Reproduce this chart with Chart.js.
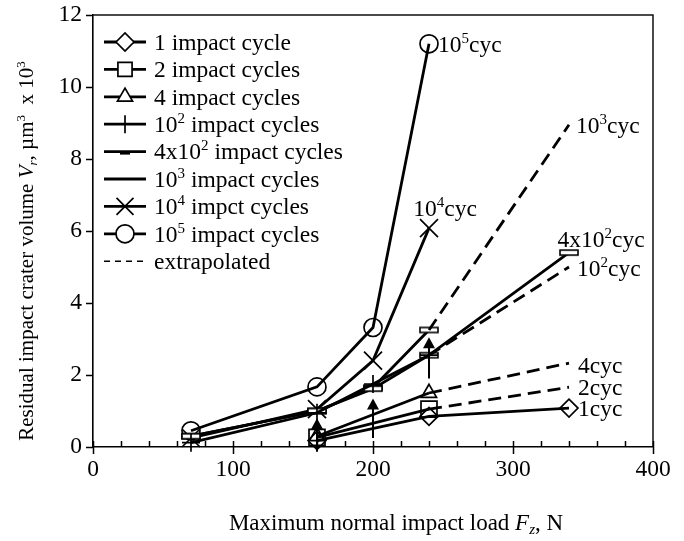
<!DOCTYPE html>
<html>
<head>
<meta charset="utf-8">
<script src="https://cdn.jsdelivr.net/npm/chart.js@4.4.1/dist/chart.umd.min.js"></script>
<style>
html,body{margin:0;padding:0;background:#fff}
canvas{display:block}
</style>
</head>
<body>
<canvas id="c" width="684" height="541"></canvas>
<script>
// Residual impact crater volume (x10^3 µm^3) against maximum normal impact load (N)
const cyc1Load = [160, 240, 340];
const cyc1Vol = [0.18, 0.85, 1.08];
const cyc2Load = [160, 240];
const cyc2Vol = [0.27, 1.05];
const cyc4Load = [160, 240];
const cyc4Vol = [0.30, 1.50];
const cyc100Load = [70, 160, 200, 240];
const cyc100Vol = [0.12, 0.95, 1.75, 2.55];
const cyc400Load = [70, 160, 200, 240, 340];
const cyc400Vol = [0.30, 1.00, 1.62, 2.55, 5.40];
const cyc1e3Load = [70, 160, 200, 240];
const cyc1e3Vol = [0.30, 1.00, 1.65, 3.25];
const cyc1e4Load = [70, 160, 200, 240];
const cyc1e4Vol = [0.25, 1.05, 2.40, 6.08];
const cyc1e5Load = [70, 160, 200, 240];
const cyc1e5Vol = [0.45, 1.67, 3.32, 11.2];

// extrapolated end values at the highest load
const extLoad = 340;
const cyc2Ext = 1.66;
const cyc4Ext = 2.33;
const cyc100Ext = 5.0;
const cyc1e3Ext = 8.95;

// upward arrows (load, start volume, tip volume)
const arrowLoad = [160, 200, 240];
const arrowFrom = [-0.13, 0.25, 1.9];
const arrowTo = [0.8, 1.35, 3.05];

const xTickValues = [0, 100, 200, 300, 400];
const yTickValues = [0, 2, 4, 6, 8, 10, 12];

const legendLabels = ['1 impact cycle', '2 impact cycles', '4 impact cycles', '10^{2} impact cycles',
  '4x10^{2} impact cycles', '10^{3} impact cycles', '10^{4} impct cycles', '10^{5} impact cycles', 'extrapolated'];
const endLabels = ['10^{5}cyc', '10^{4}cyc', '10^{3}cyc', '4x10^{2}cyc', '10^{2}cyc', '4cyc', '2cyc', '1cyc'];
const xTitle = 'Maximum normal impact load *F_{z}*, N';
const yTitle = 'Residual impact crater volume *V_{r}*, µm^{3}  x 10^{3}';

const SERIF = '"Liberation Serif", "Times New Roman", serif';
const FS = 23.5;

// ---- rich text (italic, superscript, subscript) ----
function parseRich(s) {
  const segs = []; let italic = false; let buf = ''; let i = 0;
  const flush = () => { if (buf) { segs.push({ t: buf, it: italic, m: null }); buf = ''; } };
  while (i < s.length) {
    const ch = s[i];
    if (ch === '*') { flush(); italic = !italic; i++; continue; }
    if ((ch === '^' || ch === '_') && s[i + 1] === '{') {
      flush();
      const end = s.indexOf('}', i);
      segs.push({ t: s.slice(i + 2, end), it: italic, m: ch === '^' ? 'sup' : 'sub' });
      i = end + 1; continue;
    }
    buf += ch; i++;
  }
  flush();
  return segs;
}
function segFont(seg, size) {
  const sz = seg.m ? Math.round(size * 0.64) : size;
  return (seg.it ? 'italic ' : '') + sz + 'px ' + SERIF;
}
function drawRich(ctx, str, x, y, size, align) {
  const segs = parseRich(str);
  let w = 0;
  for (const s of segs) { ctx.font = segFont(s, size); w += ctx.measureText(s.t).width; }
  let cx = align === 'center' ? x - w / 2 : (align === 'right' ? x - w : x);
  const base = y + size * 0.33;
  ctx.save();
  ctx.fillStyle = '#000';
  ctx.textBaseline = 'alphabetic';
  ctx.textAlign = 'left';
  for (const s of segs) {
    ctx.font = segFont(s, size);
    let dy = 0;
    if (s.m === 'sup') dy = -size * 0.38;
    if (s.m === 'sub') dy = size * 0.2;
    ctx.fillText(s.t, cx, base + dy);
    cx += ctx.measureText(s.t).width;
  }
  ctx.restore();
}

// hollow flat bar marker
function flatBar(w, h, lw) {
  const c = document.createElement('canvas');
  c.width = w + 4; c.height = h + 4;
  const g = c.getContext('2d');
  g.fillStyle = '#fff';
  g.fillRect(2, 2, w, h);
  g.strokeStyle = '#000';
  g.lineWidth = lw;
  g.strokeRect(2, 2, w, h);
  return c;
}
const barMarker = flatBar(18, 5, 1.6);

const pts = (xs, ys) => xs.map((x, i) => ({ x: x, y: ys[i] }));
const LW = 2.8;
const solid = (xs, ys, style, r) => ({
  data: pts(xs, ys), showLine: true, borderColor: '#000', borderWidth: LW,
  pointStyle: style, pointRadius: r, pointHoverRadius: r, pointBorderColor: '#000',
  pointBackgroundColor: 'rgba(0,0,0,0)', pointBorderWidth: 1.7, clip: false
});
const dashed = (x0, y0, y1) => ({
  data: [{ x: x0, y: y0 }, { x: extLoad, y: y1 }], showLine: true, borderColor: '#000',
  borderWidth: LW, borderDash: [13, 7], pointRadius: 0, clip: false
});
const last = a => a[a.length - 1];

const datasets = [
  dashed(last(cyc2Load), last(cyc2Vol), cyc2Ext),
  dashed(last(cyc4Load), last(cyc4Vol), cyc4Ext),
  dashed(last(cyc100Load), last(cyc100Vol), cyc100Ext),
  dashed(last(cyc1e3Load), last(cyc1e3Vol), cyc1e3Ext),
  solid(cyc1Load, cyc1Vol, 'rectRot', 9),
  solid(cyc2Load, cyc2Vol, 'rect', 11.3),
  solid(cyc4Load, cyc4Vol, 'triangle', 8.7),
  solid(cyc100Load, cyc100Vol, 'cross', 9),
  solid(cyc400Load, cyc400Vol, barMarker, 9),
  solid(cyc1e3Load, cyc1e3Vol, barMarker, 9),
  solid(cyc1e4Load, cyc1e4Vol, 'crossRot', 12.7),
  solid(cyc1e5Load, cyc1e5Vol, 'circle', 9)
];

// anchors for the series labels at the right-hand ends
const endAnchors = [
  { x: last(cyc1e5Load), y: last(cyc1e5Vol), dx: 9, dy: 0, align: 'left' },
  { x: last(cyc1e4Load), y: last(cyc1e4Vol), dx: 16, dy: -20, align: 'center' },
  { x: extLoad, y: cyc1e3Ext, dx: 7, dy: 0, align: 'left' },
  { x: last(cyc400Load), y: last(cyc400Vol), dx: 32, dy: -13, align: 'center' },
  { x: extLoad, y: cyc100Ext, dx: 8, dy: 1, align: 'left' },
  { x: extLoad, y: cyc4Ext, dx: 9, dy: 2, align: 'left' },
  { x: extLoad, y: cyc2Ext, dx: 9, dy: 0, align: 'left' },
  { x: last(cyc1Load), y: last(cyc1Vol), dx: 9, dy: 0, align: 'left' }
];

const legendMarkers = [
  { style: 'rectRot', r: 9 }, { style: 'rect', r: 10 }, { style: 'triangle', r: 8.7 },
  { style: 'cross', r: 9 }, { style: 'smallbar' }, { style: null }, { style: 'crossRot', r: 12 },
  { style: 'circle', r: 9 }, { style: 'dash' }
];

const decor = {
  id: 'decor',
  beforeDraw(chart) {
    const ctx = chart.ctx;
    ctx.save();
    ctx.fillStyle = '#fff';
    ctx.fillRect(0, 0, chart.width, chart.height);
    ctx.restore();
  },
  afterDraw(chart) {
    const ctx = chart.ctx;
    const a = chart.chartArea;
    const xs = chart.scales.x, ys = chart.scales.y;
    ctx.save();
    // frame: top and right edges
    ctx.strokeStyle = '#111';
    ctx.lineWidth = 1.5;
    ctx.beginPath();
    ctx.moveTo(a.left, a.top);
    ctx.lineTo(a.right, a.top);
    ctx.lineTo(a.right, a.bottom);
    ctx.stroke();
    // tick marks
    ctx.strokeStyle = '#000';
    ctx.lineWidth = 1.5;
    ctx.beginPath();
    for (let v = 0; v <= 400; v += 20) {
      const px = Math.round(xs.getPixelForValue(v)) + 0.5;
      if (v % 100 === 0) { ctx.moveTo(px, a.bottom - 6); ctx.lineTo(px, a.bottom + 7); }
      else { ctx.moveTo(px, a.bottom - 6); ctx.lineTo(px, a.bottom); }
    }
    for (const v of yTickValues) {
      const py = Math.round(ys.getPixelForValue(v)) + 0.5;
      ctx.moveTo(a.left - 7, py); ctx.lineTo(a.left, py);
    }
    ctx.stroke();

    // arrows
    ctx.lineWidth = 2;
    ctx.fillStyle = '#000';
    arrowLoad.forEach((L, i) => {
      const px = xs.getPixelForValue(L);
      const y0 = ys.getPixelForValue(arrowFrom[i]);
      const y1 = ys.getPixelForValue(arrowTo[i]);
      ctx.beginPath();
      ctx.moveTo(px, y0); ctx.lineTo(px, y1 + 8);
      ctx.stroke();
      ctx.beginPath();
      ctx.moveTo(px, y1); ctx.lineTo(px - 6, y1 + 11); ctx.lineTo(px + 6, y1 + 11);
      ctx.closePath(); ctx.fill();
    });

    // series end labels
    endLabels.forEach((t, i) => {
      const an = endAnchors[i];
      drawRich(ctx, t, xs.getPixelForValue(an.x) + an.dx, ys.getPixelForValue(an.y) + an.dy, FS, an.align);
    });

    // legend
    const lx0 = 104, lx1 = 146, tx = 154, ly0 = 42, step = 27.4;
    legendLabels.forEach((t, i) => {
      const y = ly0 + i * step;
      const m = legendMarkers[i];
      ctx.save();
      ctx.strokeStyle = '#000';
      if (m.style === 'dash') {
        ctx.lineWidth = 1.5;
        ctx.setLineDash([6, 5]);
        ctx.beginPath(); ctx.moveTo(lx0, y); ctx.lineTo(lx1, y); ctx.stroke();
      } else {
        ctx.lineWidth = LW;
        ctx.beginPath(); ctx.moveTo(lx0, y); ctx.lineTo(lx1, y); ctx.stroke();
        const cx = (lx0 + lx1) / 2;
        if (m.style === 'smallbar') {
          ctx.fillStyle = '#000';
          ctx.fillRect(cx - 5, y, 10, 3);
        } else if (m.style) {
          ctx.fillStyle = '#fff';
          ctx.lineWidth = 1.7;
          Chart.helpers.drawPoint(ctx, { pointStyle: m.style, radius: m.r, rotation: 0, borderWidth: 1.7 }, cx, y);
        }
      }
      ctx.restore();
      drawRich(ctx, t, tx, y, FS, 'left');
    });

    // axis titles
    drawRich(ctx, xTitle, 396, 522, 23, 'center');
    ctx.save();
    ctx.translate(26, 251);
    ctx.rotate(-Math.PI / 2);
    drawRich(ctx, yTitle, 0, 0, 21, 'center');
    ctx.restore();
    ctx.restore();
  }
};

new Chart(document.getElementById('c'), {
  type: 'scatter',
  data: { datasets: datasets },
  options: {
    responsive: false,
    animation: false,
    events: [],
    layout: { padding: { top: 15, right: 31, left: 0, bottom: 0 } },
    plugins: { legend: { display: false }, tooltip: { enabled: false } },
    scales: {
      x: {
        type: 'linear', min: 0, max: 400,
        afterFit: s => { s.height = 94; s.paddingLeft = 0; s.paddingRight = 0; },
        afterBuildTicks: s => { s.ticks = xTickValues.map(v => ({ value: v })); },
        grid: { display: false, drawTicks: false },
        border: { display: true, color: '#000', width: 1.6 },
        ticks: { color: '#000', padding: 9, maxRotation: 0, font: { family: SERIF, size: FS } }
      },
      y: {
        type: 'linear', min: 0, max: 12,
        afterFit: s => { s.width = 93; s.paddingTop = 0; s.paddingBottom = 0; },
        afterBuildTicks: s => { s.ticks = yTickValues.map(v => ({ value: v })); },
        grid: { display: false, drawTicks: false },
        border: { display: true, color: '#000', width: 1.6 },
        ticks: { color: '#000', padding: 11, font: { family: SERIF, size: FS } }
      }
    }
  },
  plugins: [decor]
});
</script>
</body>
</html>
